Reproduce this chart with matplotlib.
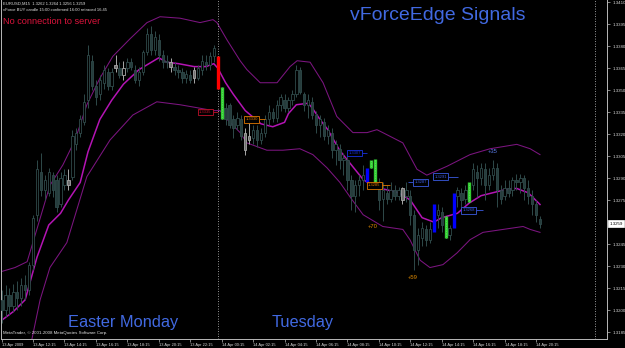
import matplotlib
matplotlib.use("Agg")
import matplotlib.pyplot as plt
from matplotlib.transforms import blended_transform_factory

# EURUSD M15，13 Apr 2009 10:15 起每根 15 分鐘（數值由截圖估讀）
opens = [1.3207, 1.3200, 1.3210, 1.3203, 1.3212, 1.3208, 1.3217, 1.3214, 1.3231, 1.3265,
         1.3294, 1.3282, 1.3280, 1.3292, 1.3289, 1.3272, 1.3285, 1.3289, 1.3291, 1.3313,
         1.3321, 1.3328, 1.3343, 1.3370, 1.3353, 1.3347, 1.3355, 1.3362, 1.3353, 1.3367,
         1.3365, 1.3360, 1.3365, 1.3369, 1.3364, 1.3357, 1.3362, 1.3376, 1.3388, 1.3377,
         1.3384, 1.3374, 1.3369, 1.3369, 1.3366, 1.3364, 1.3362, 1.3358, 1.3360, 1.3364,
         1.3358, 1.3364, 1.3369, 1.3367, 1.3373, 1.3373, 1.3351, 1.3338, 1.3340, 1.3330,
         1.3326, 1.3330, 1.3321, 1.3319, 1.3317, 1.3323, 1.3316, 1.3321, 1.3330, 1.3335,
         1.3331, 1.3340, 1.3343, 1.3338, 1.3343, 1.3347, 1.3364, 1.3347, 1.3340, 1.3342,
         1.3333, 1.3326, 1.3328, 1.3319, 1.3321, 1.3309, 1.3310, 1.3302, 1.3302, 1.3289,
         1.3278, 1.3285, 1.3289, 1.3287, 1.3302, 1.3303, 1.3287, 1.3276, 1.3280, 1.3276,
         1.3282, 1.3278, 1.3283, 1.3278, 1.3278, 1.3265, 1.3241, 1.3249, 1.3255, 1.3248,
         1.3253, 1.3265, 1.3267, 1.3264, 1.3251, 1.3256, 1.3278, 1.3280, 1.3276, 1.3274,
         1.3285, 1.3294, 1.3290, 1.3296, 1.3285, 1.3292, 1.3297, 1.3282, 1.3278, 1.3283,
         1.3282, 1.3289, 1.3287, 1.3290, 1.3283, 1.3278, 1.3272, 1.3262]
closes = [1.3200, 1.3210, 1.3203, 1.3212, 1.3208, 1.3217, 1.3214, 1.3231, 1.3263, 1.3296,
          1.3282, 1.3289, 1.3294, 1.3282, 1.3270, 1.3290, 1.3292, 1.3285, 1.3319, 1.3321,
          1.3330, 1.3342, 1.3374, 1.3353, 1.3345, 1.3357, 1.3364, 1.3353, 1.3362, 1.3365,
          1.3360, 1.3365, 1.3369, 1.3366, 1.3357, 1.3362, 1.3376, 1.3388, 1.3377, 1.3386,
          1.3374, 1.3369, 1.3370, 1.3366, 1.3364, 1.3362, 1.3358, 1.3361, 1.3357, 1.3358,
          1.3365, 1.3370, 1.3367, 1.3373, 1.3379, 1.3351, 1.3331, 1.3330, 1.3326, 1.3324,
          1.3331, 1.3319, 1.3309, 1.3316, 1.3323, 1.3316, 1.3321, 1.3330, 1.3335, 1.3331,
          1.3340, 1.3345, 1.3338, 1.3343, 1.3347, 1.3364, 1.3349, 1.3340, 1.3343, 1.3333,
          1.3326, 1.3330, 1.3319, 1.3323, 1.3309, 1.3313, 1.3302, 1.3304, 1.3289, 1.3278,
          1.3285, 1.3289, 1.3292, 1.3297, 1.3297, 1.3285, 1.3275, 1.3282, 1.3276, 1.3282,
          1.3278, 1.3282, 1.3275, 1.3282, 1.3265, 1.3241, 1.3251, 1.3256, 1.3248, 1.3255,
          1.3272, 1.3268, 1.3258, 1.3249, 1.3256, 1.3280, 1.3282, 1.3275, 1.3282, 1.3287,
          1.3296, 1.3290, 1.3297, 1.3285, 1.3292, 1.3297, 1.3282, 1.3276, 1.3283, 1.3280,
          1.3289, 1.3287, 1.3290, 1.3283, 1.3278, 1.3272, 1.3265, 1.3259]
highs = [1.3214, 1.3217, 1.3215, 1.3218, 1.3220, 1.3222, 1.3224, 1.3233, 1.3265, 1.3302,
         1.3307, 1.3292, 1.3297, 1.3294, 1.3292, 1.3294, 1.3296, 1.3296, 1.3323, 1.3324,
         1.3333, 1.3347, 1.3381, 1.3374, 1.3357, 1.3360, 1.3367, 1.3365, 1.3365, 1.3374,
         1.3369, 1.3370, 1.3372, 1.3372, 1.3367, 1.3366, 1.3377, 1.3392, 1.3394, 1.3390,
         1.3388, 1.3377, 1.3374, 1.3372, 1.3369, 1.3367, 1.3365, 1.3364, 1.3364, 1.3366,
         1.3367, 1.3374, 1.3374, 1.3376, 1.3381, 1.3373, 1.3352, 1.3341, 1.3341, 1.3333,
         1.3335, 1.3333, 1.3324, 1.3328, 1.3326, 1.3326, 1.3324, 1.3333, 1.3340, 1.3338,
         1.3343, 1.3347, 1.3347, 1.3345, 1.3350, 1.3367, 1.3366, 1.3349, 1.3347, 1.3345,
         1.3336, 1.3333, 1.3331, 1.3326, 1.3324, 1.3316, 1.3313, 1.3307, 1.3306, 1.3292,
         1.3289, 1.3292, 1.3299, 1.3297, 1.3302, 1.3303, 1.3290, 1.3287, 1.3285, 1.3287,
         1.3285, 1.3284, 1.3284, 1.3287, 1.3282, 1.3268, 1.3256, 1.3260, 1.3258, 1.3260,
         1.3272, 1.3272, 1.3270, 1.3264, 1.3258, 1.3280, 1.3284, 1.3283, 1.3285, 1.3287,
         1.3300, 1.3299, 1.3300, 1.3300, 1.3297, 1.3302, 1.3300, 1.3285, 1.3289, 1.3289,
         1.3291, 1.3293, 1.3293, 1.3292, 1.3289, 1.3282, 1.3275, 1.3264]
lows = [1.3191, 1.3195, 1.3197, 1.3199, 1.3200, 1.3203, 1.3207, 1.3210, 1.3227, 1.3261,
        1.3278, 1.3275, 1.3278, 1.3277, 1.3267, 1.3270, 1.3282, 1.3282, 1.3289, 1.3309,
        1.3318, 1.3326, 1.3338, 1.3350, 1.3340, 1.3343, 1.3351, 1.3350, 1.3350, 1.3362,
        1.3358, 1.3357, 1.3362, 1.3364, 1.3355, 1.3353, 1.3360, 1.3374, 1.3374, 1.3374,
        1.3370, 1.3365, 1.3365, 1.3362, 1.3360, 1.3358, 1.3355, 1.3355, 1.3355, 1.3355,
        1.3357, 1.3360, 1.3364, 1.3364, 1.3369, 1.3351, 1.3330, 1.3326, 1.3324, 1.3317,
        1.3323, 1.3316, 1.3306, 1.3313, 1.3313, 1.3311, 1.3313, 1.3318, 1.3326, 1.3328,
        1.3328, 1.3336, 1.3335, 1.3335, 1.3340, 1.3345, 1.3347, 1.3336, 1.3331, 1.3330,
        1.3321, 1.3318, 1.3316, 1.3313, 1.3304, 1.3299, 1.3296, 1.3292, 1.3282, 1.3268,
        1.3267, 1.3278, 1.3282, 1.3287, 1.3297, 1.3285, 1.3268, 1.3261, 1.3272, 1.3274,
        1.3275, 1.3275, 1.3272, 1.3274, 1.3258, 1.3227, 1.3231, 1.3244, 1.3244, 1.3246,
        1.3253, 1.3256, 1.3253, 1.3249, 1.3248, 1.3256, 1.3270, 1.3270, 1.3272, 1.3274,
        1.3282, 1.3277, 1.3285, 1.3275, 1.3282, 1.3289, 1.3270, 1.3272, 1.3275, 1.3277,
        1.3278, 1.3282, 1.3280, 1.3275, 1.3272, 1.3265, 1.3260, 1.3256]

grey_bars = [17, 29, 31, 43, 49, 62, 63, 102]
red_bars = [55]
green_bars = [56, 94, 95, 113, 119]
blue_bars = [93, 110, 115]

# 通道線（中線 / 上軌 / 下軌），bar 位置與價格
mid_idx = [0, 3, 6, 9, 12, 15, 17, 20, 22, 25, 28, 31, 33, 35, 40, 42, 45, 49, 52, 54, 55,
           57, 59, 62, 66, 69, 72, 73, 75, 78, 79, 81, 83, 86, 89, 92, 95, 101, 104, 107,
           110, 112, 116, 119, 122, 128, 131, 134, 137]
mid_vals = [1.3193, 1.3199, 1.3207, 1.3236, 1.3258, 1.3266, 1.3275, 1.3287, 1.3308, 1.3330,
            1.3343, 1.3354, 1.3359, 1.3364, 1.3372, 1.3369, 1.3368, 1.3366, 1.3366, 1.3368,
            1.3365, 1.3355, 1.3347, 1.3336, 1.3327, 1.3325, 1.3328, 1.3334, 1.3340, 1.3341,
            1.3338, 1.3330, 1.3323, 1.3309, 1.3299, 1.3289, 1.3284, 1.3280, 1.3275, 1.3263,
            1.3260, 1.3263, 1.3266, 1.3273, 1.3278, 1.3282, 1.3283, 1.3280, 1.3272]
up_idx = [-0.4, 3.4, 6.5, 9.3, 12.3, 15.6, 18.7, 21.7, 25.0, 28.3, 32.7, 37.0, 40.3, 45.4,
          50.5, 53.8, 54.8, 57.4, 60.7, 62.4, 65.8, 70.1, 73.4, 75.2, 78.5, 81.8, 85.3,
          89.4, 93.0, 95.5, 97.0, 102.1, 105.7, 108.2, 113.3, 119.2, 124.3, 131.1, 134.5, 137.0]
up_vals = [1.3226, 1.3229, 1.3233, 1.3258, 1.3285, 1.3299, 1.3316, 1.3340, 1.3358, 1.3373,
           1.3385, 1.3396, 1.3400, 1.3399, 1.3396, 1.3398, 1.3396, 1.3384, 1.3370, 1.3364,
           1.3355, 1.3355, 1.3366, 1.3370, 1.3369, 1.3355, 1.3332, 1.3321, 1.3321, 1.3323,
           1.3321, 1.3314, 1.3296, 1.3292, 1.3298, 1.3306, 1.3310, 1.3313, 1.3310, 1.3306]
lo_idx = [5.5, 7.7, 9.8, 12.3, 16.6, 21.7, 27.6, 33.4, 39.5, 45.4, 49.7, 53.8, 55.6, 57.4,
          60.7, 62.4, 67.5, 71.6, 75.9, 79.2, 82.8, 86.1, 88.7, 92.0, 97.0, 102.1, 103.9,
          106.5, 109.0, 112.3, 115.9, 119.2, 122.5, 127.6, 132.7, 134.5, 137.0]
lo_vals = [1.3165, 1.3180, 1.3207, 1.3229, 1.3246, 1.3291, 1.3316, 1.3333, 1.3342, 1.3340,
           1.3338, 1.3336, 1.3336, 1.3330, 1.3321, 1.3314, 1.3309, 1.3309, 1.3310, 1.3306,
           1.3297, 1.3287, 1.3277, 1.3265, 1.3257, 1.3255, 1.3248, 1.3234, 1.3229, 1.3231,
           1.3239, 1.3248, 1.3253, 1.3255, 1.3257, 1.3255, 1.3253]

# 價格標籤方框：bar 位置、價格、連線起訖、顏色
box_idx = [51.8, 63.7, 89.8, 94.8, 106.7, 111.7, 118.8]
box_price = [1.3335, 1.3330, 1.3307, 1.3285, 1.3287, 1.3291, 1.3268]
box_line = [(53.8, 55.1), (65.6, 67.0), (91.7, 93.0), (96.8, 98.8), (103.5, 104.8),
            (113.6, 116.1), (120.7, 122.5)]
box_color = ["#C0102A", "#E07800", "#1830E0", "#E07800", "#3A5AE0", "#3A5AE0", "#3A5AE0"]

pip_idx = [94.5, 104.5, 125.0]
pip_price = [1.3257, 1.3222, 1.3308]
pip_text = ["+70", "+59", "+35"]
pip_color = ["#E08A00", "#E08A00", "#5A7CE8"]

ytick_vals = [1.3410, 1.3395, 1.3380, 1.3365, 1.3350, 1.3335, 1.3320, 1.3305, 1.3290,
              1.3275, 1.3245, 1.3230, 1.3215, 1.3200, 1.3185]
xtick_idx = list(range(0, 137, 8))
xtick_labels = ["13 Apr 2009", "13 Apr 12:15", "13 Apr 14:15", "13 Apr 16:15", "13 Apr 18:15",
                "13 Apr 20:15", "13 Apr 22:15", "14 Apr 00:15", "14 Apr 02:15", "14 Apr 04:15",
                "14 Apr 06:15", "14 Apr 08:15", "14 Apr 10:15", "14 Apr 12:15", "14 Apr 14:15",
                "14 Apr 16:15", "14 Apr 18:15", "14 Apr 20:15"]
last_price = 1.3259

plt.rcParams["font.family"] = ["Liberation Sans", "DejaVu Sans"]
W, H = 625, 348
fig = plt.figure(figsize=(W / 100, H / 100), dpi=100, facecolor="black")
ax = fig.add_axes([1 / W, 9 / H, 606 / W, 339 / H])
ax.set_facecolor("black")
ax.set_xlim(-0.15, 154.05)
ax.set_ylim(1.31803, 1.34114)

FG = "#B8B8B8"
CANDLE = "#2F4A4A"
special = set(red_bars + green_bars + blue_bars)
for i in range(len(opens)):
    o, h, l, c = opens[i], highs[i], lows[i], closes[i]
    if i in special:
        continue
    col = "#A8A8A8" if i in grey_bars else CANDLE
    ax.vlines(i, l, h, color=col, lw=0.7, zorder=2)
    bot, hgt = min(o, c), max(abs(c - o), 0.00004)
    fc = "black" if c >= o else ("#263C3C" if col == CANDLE else "#707070")
    ax.bar(i, hgt, bottom=bot, width=0.6, facecolor=fc, edgecolor=col, lw=0.6, zorder=3)

# 日分隔線（放在訊號柱下面）
for xv in (55, 151):
    ax.axvline(xv, color="#C8C8C8", lw=0.6, ls=(0, (1, 2)), zorder=3.5)

for idx, col in [(red_bars, "#FF0000"), (green_bars, "#32CD32"), (blue_bars, "#0000FF")]:
    for i in idx:
        ax.vlines(i, lows[i], highs[i], color=col, lw=2.4, zorder=4)
        if col == "#32CD32":
            ax.vlines(i, lows[i], highs[i], color="#B0F0B0", lw=0.4,
                      linestyles=(0, (1, 2)), zorder=5)

ax.plot(up_idx, up_vals, color="#7C1580", lw=0.75, zorder=1)
ax.plot(lo_idx, lo_vals, color="#7C1580", lw=0.75, zorder=1)
ax.plot(mid_idx, mid_vals, color="#B414B4", lw=1.1, zorder=1)

for bx, bp, (l0, l1), bc in zip(box_idx, box_price, box_line, box_color):
    ax.hlines(bp, l0, l1, color=bc, lw=0.6, zorder=6)
    ax.text(bx, bp, f"{bp:.4f}", fontsize=3.0, color=bc, ha="center", va="center", zorder=7,
            bbox=dict(boxstyle="square,pad=0.3", fc="black", ec=bc, lw=0.6))
for px, pp, pt, pc in zip(pip_idx, pip_price, pip_text, pip_color):
    ax.text(px, pp, pt, fontsize=4.2, color=pc, ha="center", va="center", zorder=7)

for side in ("left", "bottom", "right"):
    ax.spines[side].set_color(FG)
    ax.spines[side].set_linewidth(0.7)
ax.spines["top"].set_visible(False)

ax.yaxis.tick_right()
ax.set_yticks(ytick_vals)
ax.set_yticklabels([f"{v:.4f}" for v in ytick_vals])
ax.tick_params(axis="y", colors=FG, labelcolor="#D8D8D8", labelsize=3.2, length=2.5,
               width=0.5, pad=1.5)
ax.set_xticks(xtick_idx)
ax.set_xticklabels(xtick_labels, ha="left")
ax.tick_params(axis="x", colors=FG, labelcolor="#D8D8D8", labelsize=2.9, length=2.5,
               width=0.5, pad=0.6)

trans = blended_transform_factory(ax.transAxes, ax.transData)
ax.text(1.004, last_price, f"{last_price:.4f}", transform=trans, fontsize=3.2, color="black",
        ha="left", va="center", clip_on=False,
        bbox=dict(boxstyle="square,pad=0.25", fc="white", ec="white", lw=0.5))

def ftext(x, y, s, **kw):
    fig.text(x / W, 1 - y / H, s, **kw)

ftext(3, 4, "EURUSD,M15  1.3262 1.3264 1.3256 1.3259", fontsize=3.0, color="#E0E0E0", va="center")
ftext(3, 10, "vForce BUY candle 15:00 confirmed 16:00 retraced 16:45", fontsize=3.0,
      color="#E0E0E0", va="center")
ftext(3, 21, "No connection to server", fontsize=6.6, color="#DC143C", va="center")
ftext(350, 15, "vForceEdge Signals", fontsize=14, color="#4169E1", va="center")
ftext(68, 323, "Easter Monday", fontsize=11.8, color="#4169E1", va="center")
ftext(272, 323, "Tuesday", fontsize=11.8, color="#4169E1", va="center")
ftext(3, 333, "MetaTrader, \u00a9 2001-2008 MetaQuotes Software Corp.", fontsize=3.2,
      color="#E0E0E0", va="center")

fig.savefig("out.png", dpi=100, facecolor="black")
